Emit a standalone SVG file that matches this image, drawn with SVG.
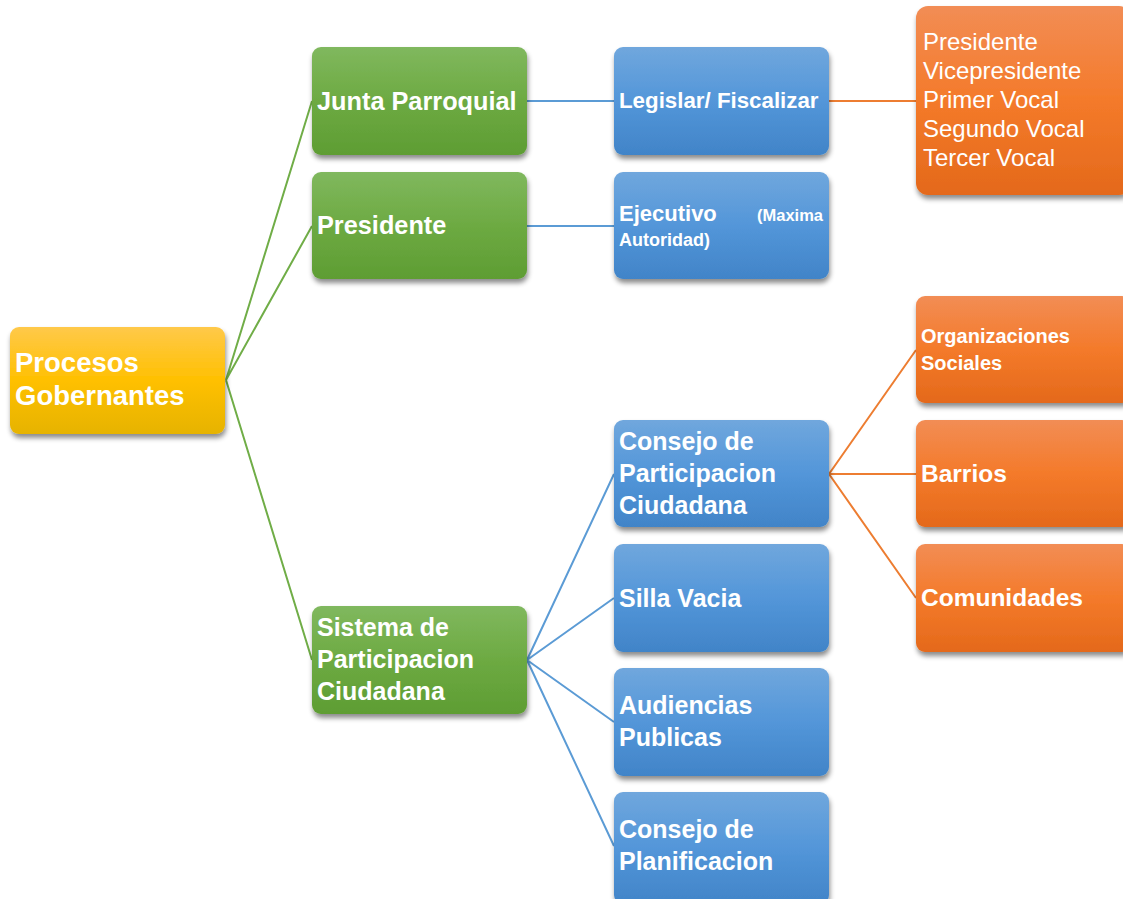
<svg xmlns="http://www.w3.org/2000/svg" width="1123" height="899" viewBox="0 0 1123 899">
<defs>
<linearGradient id="gY" x1="0" y1="0" x2="0" y2="1"><stop offset="0" stop-color="#FFC94A"/><stop offset="0.5" stop-color="#FFC000"/><stop offset="1" stop-color="#E6B300"/></linearGradient>
<linearGradient id="gG" x1="0" y1="0" x2="0" y2="1"><stop offset="0" stop-color="#80B85E"/><stop offset="0.5" stop-color="#6DAA42"/><stop offset="1" stop-color="#5E9D33"/></linearGradient>
<linearGradient id="gB" x1="0" y1="0" x2="0" y2="1"><stop offset="0" stop-color="#70A7DD"/><stop offset="0.5" stop-color="#5396D9"/><stop offset="1" stop-color="#4184C8"/></linearGradient>
<linearGradient id="gO" x1="0" y1="0" x2="0" y2="1"><stop offset="0" stop-color="#F28D55"/><stop offset="0.5" stop-color="#F47A2A"/><stop offset="1" stop-color="#E4691B"/></linearGradient>
<filter id="sh" x="-10%" y="-10%" width="125%" height="130%"><feDropShadow dx="1" dy="4" stdDeviation="2.5" flood-color="#000" flood-opacity="0.45"/></filter>
</defs>
<style>
.n{filter:url(#sh)}
.t{font-family:"Liberation Sans",Arial,sans-serif;font-weight:bold;fill:#fff}
.r{font-family:"Liberation Sans",Arial,sans-serif;fill:#fff}
.cg{stroke:#70AD47;stroke-width:2;fill:none}
.cb{stroke:#5B9BD5;stroke-width:2;fill:none}
.co{stroke:#ED7D31;stroke-width:2;fill:none}
</style>
<g id="connectors">
<path class="cg" d="M226 380 L312 101 M226 380 L312 226 M226 380 L312 660"/>
<path class="cb" d="M527 101 L614 101 M527 226 L614 226 M527 660 L614 474 M527 660 L614 598 M527 660 L614 722 M527 660 L614 846"/>
<path class="co" d="M829 101 L916 101 M829 474 L916 350 M829 474 L916 474 M829 474 L916 598"/>
</g>
<g id="procesos-gobernantes"><rect class="n" x="10" y="327" width="215" height="107" rx="9" fill="url(#gY)"/><text class="t" font-size="27.5" x="15" y="372">Procesos</text><text class="t" font-size="27.5" x="15" y="405">Gobernantes</text></g>
<g id="junta-parroquial"><rect class="n" x="312" y="47" width="215" height="108" rx="9" fill="url(#gG)"/><text class="t" font-size="25.3" x="317" y="110">Junta Parroquial</text></g>
<g id="presidente"><rect class="n" x="312" y="172" width="215" height="107" rx="9" fill="url(#gG)"/><text class="t" font-size="25.3" x="317" y="234">Presidente</text></g>
<g id="sistema"><rect class="n" x="312" y="606" width="215" height="108" rx="9" fill="url(#gG)"/><text class="t" font-size="25" x="317" y="636">Sistema de</text><text class="t" font-size="25" x="317" y="668">Participacion</text><text class="t" font-size="25" x="317" y="700">Ciudadana</text></g>
<g id="legislar"><rect class="n" x="614" y="47" width="215" height="108" rx="9" fill="url(#gB)"/><text class="t" font-size="22.3" x="619" y="108">Legislar/ Fiscalizar</text></g>
<g id="ejecutivo"><rect class="n" x="614" y="172" width="215" height="107" rx="9" fill="url(#gB)"/><text class="t" font-size="22" x="619" y="221">Ejecutivo</text><text class="t" font-size="16.5" x="823" y="221" text-anchor="end">(Maxima</text><text class="t" font-size="18" x="619" y="246">Autoridad)</text></g>
<g id="consejo-participacion"><rect class="n" x="614" y="420" width="215" height="107" rx="9" fill="url(#gB)"/><text class="t" font-size="25" x="619" y="450">Consejo de</text><text class="t" font-size="25" x="619" y="482">Participacion</text><text class="t" font-size="25" x="619" y="514">Ciudadana</text></g>
<g id="silla-vacia"><rect class="n" x="614" y="544" width="215" height="108" rx="9" fill="url(#gB)"/><text class="t" font-size="25" x="619" y="607">Silla Vacia</text></g>
<g id="audiencias"><rect class="n" x="614" y="668" width="215" height="108" rx="9" fill="url(#gB)"/><text class="t" font-size="25" x="619" y="714">Audiencias</text><text class="t" font-size="25" x="619" y="746">Publicas</text></g>
<g id="consejo-planificacion"><rect class="n" x="614" y="792" width="215" height="112" rx="9" fill="url(#gB)"/><text class="t" font-size="25" x="619" y="838">Consejo de</text><text class="t" font-size="25" x="619" y="870">Planificacion</text></g>
<g id="miembros"><rect class="n" x="916" y="6" width="215" height="189" rx="12" fill="url(#gO)"/><text class="r" font-size="24" x="923" y="50">Presidente</text><text class="r" font-size="24" x="923" y="79">Vicepresidente</text><text class="r" font-size="24" x="923" y="108">Primer Vocal</text><text class="r" font-size="24" x="923" y="137">Segundo Vocal</text><text class="r" font-size="24" x="923" y="166">Tercer Vocal</text></g>
<g id="organizaciones"><rect class="n" x="916" y="296" width="215" height="107" rx="9" fill="url(#gO)"/><text class="t" font-size="20" x="921" y="343">Organizaciones</text><text class="t" font-size="20" x="921" y="370">Sociales</text></g>
<g id="barrios"><rect class="n" x="916" y="420" width="215" height="107" rx="9" fill="url(#gO)"/><text class="t" font-size="24.5" x="921" y="482">Barrios</text></g>
<g id="comunidades"><rect class="n" x="916" y="544" width="215" height="108" rx="9" fill="url(#gO)"/><text class="t" font-size="24.5" x="921" y="606">Comunidades</text></g>
</svg>
